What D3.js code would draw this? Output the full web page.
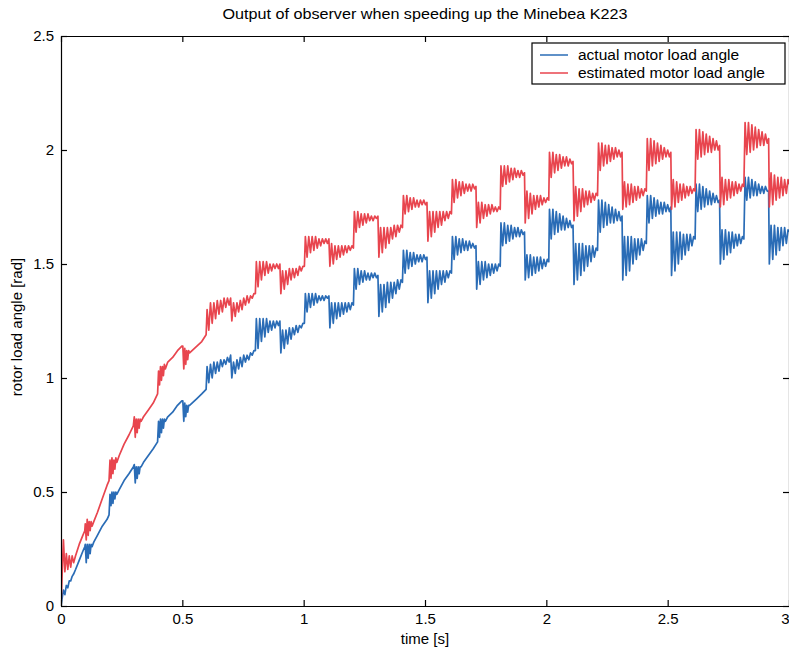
<!DOCTYPE html>
<html>
<head>
<meta charset="utf-8">
<script src="https://cdn.jsdelivr.net/npm/d3@7"></script>
<style>
  body { margin: 0; background: #fff; }
  text { font-family: "Liberation Sans", Arial, sans-serif; fill: #000; }
</style>
</head>
<body>
<script>
var width = 789, height = 649;

/** text + ticks **/
var title = "Output of observer when speeding up the Minebea K223";
var xLabel = "time [s]";
var yLabel = "rotor load angle [rad]";
var xTicks = [0, 0.5, 1, 1.5, 2, 2.5, 3];
var yTicks = [0, 0.5, 1, 1.5, 2, 2.5];
var seriesNames = ["actual motor load angle", "estimated motor load angle"];

/** shared sample times [s] (smooth start, then 0.1 s steps with ripple) **/
var time = [
  0,0.004,0.010,0.016,0.022,0.028,0.034,0.040,0.046,0.052,0.060,0.075,0.090,0.098,
  0.100,0.104,0.108,0.112,0.116,0.120,0.124,0.128,0.135,0.150,0.170,0.190,0.198,
  0.202,0.206,0.210,0.214,0.218,0.222,0.226,0.230,0.240,0.260,0.280,0.298,
  0.302,0.306,0.310,0.314,0.318,0.322,0.326,0.330,0.340,0.360,0.380,0.398,
  0.402,0.406,0.410,0.414,0.418,0.422,0.426,0.430,0.440,0.460,0.480,0.498,
  0.502,0.506,0.510,0.514,0.518,0.522,0.526,0.530,0.540,0.560,0.580,0.598,
  0.602,0.609,0.616,0.623,0.630,0.637,0.644,0.651,0.658,0.665,0.672,0.679,0.686,0.693,0.699,
  0.704,0.711,0.718,0.725,0.732,0.739,0.746,0.753,0.760,0.767,0.774,0.781,0.788,0.795,0.801,
  0.805,0.812,0.819,0.826,0.833,0.840,0.847,0.854,0.861,0.868,0.875,0.882,0.889,0.896,0.902,
  0.906,0.913,0.920,0.927,0.934,0.941,0.948,0.955,0.962,0.969,0.976,0.983,0.990,0.997,1.003,
  1.007,1.014,1.021,1.028,1.035,1.042,1.049,1.056,1.063,1.070,1.077,1.084,1.091,1.098,1.104,
  1.108,1.115,1.122,1.129,1.136,1.143,1.150,1.157,1.164,1.171,1.178,1.185,1.192,1.199,1.205,
  1.209,1.216,1.223,1.230,1.237,1.244,1.251,1.258,1.265,1.272,1.279,1.286,1.293,1.300,1.306,
  1.310,1.317,1.324,1.331,1.338,1.345,1.352,1.359,1.366,1.373,1.380,1.387,1.394,1.401,1.407,
  1.411,1.418,1.425,1.432,1.439,1.446,1.453,1.460,1.467,1.474,1.481,1.488,1.495,1.502,1.508,
  1.512,1.519,1.526,1.533,1.540,1.547,1.554,1.561,1.568,1.575,1.582,1.589,1.596,1.603,1.609,
  1.613,1.620,1.627,1.634,1.641,1.648,1.655,1.662,1.669,1.676,1.683,1.690,1.697,1.704,1.710,
  1.713,1.720,1.727,1.734,1.741,1.748,1.755,1.762,1.769,1.776,1.783,1.790,1.797,1.804,1.810,
  1.813,1.820,1.827,1.834,1.841,1.848,1.855,1.862,1.869,1.876,1.883,1.890,1.897,1.904,1.910,
  1.913,1.920,1.927,1.934,1.941,1.948,1.955,1.962,1.969,1.976,1.983,1.990,1.997,2.004,2.010,
  2.013,2.020,2.027,2.034,2.041,2.048,2.055,2.062,2.069,2.076,2.083,2.090,2.097,2.104,2.110,
  2.114,2.121,2.128,2.135,2.142,2.149,2.156,2.163,2.170,2.177,2.184,2.191,2.198,2.205,2.211,
  2.215,2.222,2.229,2.236,2.243,2.250,2.257,2.264,2.271,2.278,2.285,2.292,2.299,2.306,2.312,
  2.315,2.322,2.329,2.336,2.343,2.350,2.357,2.364,2.371,2.378,2.385,2.392,2.399,2.406,2.412,
  2.416,2.423,2.430,2.437,2.444,2.451,2.458,2.465,2.472,2.479,2.486,2.493,2.500,2.507,2.513,
  2.516,2.523,2.530,2.537,2.544,2.551,2.558,2.565,2.572,2.579,2.586,2.593,2.600,2.607,2.613,
  2.617,2.624,2.631,2.638,2.645,2.652,2.659,2.666,2.673,2.680,2.687,2.694,2.701,2.708,2.714,
  2.717,2.724,2.731,2.738,2.745,2.752,2.759,2.766,2.773,2.780,2.787,2.794,2.801,2.808,2.814,
  2.819,2.826,2.833,2.840,2.847,2.854,2.861,2.868,2.875,2.882,2.889,2.896,2.903,2.910,2.916,
  2.919,2.926,2.933,2.940,2.947,2.954,2.961,2.968,2.975,2.982,2.989,2.996,3.000
];

/** actual motor load angle [rad] **/
var actual = [
  0,0.03,0.07,0.05,0.09,0.08,0.11,0.11,0.13,0.14,0.16,0.20,0.24,0.26,
  0.27,0.19,0.27,0.21,0.27,0.23,0.27,0.26,0.28,0.31,0.35,0.38,0.40,
  0.49,0.44,0.50,0.45,0.50,0.47,0.50,0.49,0.51,0.55,0.58,0.61,
  0.62,0.54,0.61,0.56,0.61,0.58,0.61,0.61,0.63,0.66,0.69,0.72,
  0.81,0.74,0.82,0.76,0.82,0.78,0.82,0.81,0.83,0.85,0.88,0.90,
  0.90,0.81,0.89,0.83,0.88,0.85,0.88,0.88,0.89,0.91,0.93,0.95,
  1.05,0.98,1.06,1.00,1.07,1.02,1.07,1.03,1.08,1.05,1.08,1.06,1.09,1.07,1.10,
  1.00,1.07,1.02,1.08,1.04,1.09,1.05,1.10,1.07,1.10,1.08,1.11,1.10,1.12,1.12,
  1.26,1.13,1.26,1.16,1.26,1.18,1.26,1.20,1.25,1.21,1.25,1.22,1.25,1.23,1.25,
  1.11,1.21,1.13,1.21,1.15,1.22,1.17,1.22,1.19,1.23,1.20,1.23,1.22,1.24,1.24,
  1.37,1.29,1.37,1.31,1.37,1.32,1.37,1.33,1.36,1.34,1.36,1.34,1.36,1.35,1.36,
  1.22,1.33,1.24,1.33,1.26,1.33,1.27,1.33,1.28,1.33,1.29,1.33,1.30,1.33,1.32,
  1.48,1.39,1.48,1.41,1.47,1.42,1.47,1.43,1.46,1.43,1.46,1.44,1.46,1.44,1.45,
  1.27,1.41,1.29,1.41,1.31,1.42,1.33,1.42,1.35,1.42,1.37,1.43,1.39,1.43,1.42,
  1.56,1.46,1.56,1.48,1.55,1.49,1.55,1.50,1.54,1.51,1.54,1.51,1.54,1.52,1.53,
  1.33,1.47,1.35,1.47,1.37,1.47,1.39,1.47,1.41,1.47,1.42,1.47,1.44,1.47,1.46,
  1.62,1.52,1.62,1.54,1.61,1.55,1.61,1.56,1.60,1.56,1.60,1.57,1.59,1.57,1.58,
  1.39,1.51,1.41,1.51,1.43,1.51,1.44,1.50,1.45,1.50,1.46,1.50,1.47,1.50,1.49,
  1.68,1.58,1.68,1.59,1.67,1.60,1.67,1.61,1.66,1.62,1.66,1.62,1.65,1.63,1.64,
  1.43,1.54,1.44,1.54,1.45,1.53,1.46,1.53,1.47,1.53,1.48,1.52,1.49,1.52,1.51,
  1.74,1.61,1.74,1.63,1.73,1.64,1.72,1.65,1.71,1.65,1.70,1.66,1.69,1.66,1.67,
  1.41,1.59,1.43,1.59,1.45,1.59,1.47,1.58,1.49,1.58,1.51,1.58,1.53,1.57,1.56,
  1.78,1.64,1.78,1.66,1.77,1.67,1.76,1.68,1.75,1.68,1.74,1.69,1.73,1.69,1.71,
  1.43,1.62,1.45,1.62,1.47,1.62,1.50,1.61,1.52,1.61,1.54,1.61,1.56,1.60,1.59,
  1.80,1.68,1.80,1.70,1.79,1.71,1.78,1.72,1.77,1.72,1.77,1.73,1.76,1.73,1.75,
  1.45,1.64,1.47,1.64,1.50,1.64,1.52,1.63,1.54,1.63,1.56,1.63,1.58,1.62,1.61,
  1.85,1.73,1.85,1.74,1.84,1.75,1.83,1.76,1.82,1.76,1.81,1.77,1.80,1.77,1.78,
  1.50,1.65,1.52,1.65,1.54,1.64,1.55,1.64,1.57,1.63,1.58,1.63,1.59,1.62,1.61,
  1.88,1.78,1.88,1.79,1.87,1.80,1.86,1.80,1.85,1.81,1.84,1.81,1.84,1.82,1.82,
  1.50,1.67,1.52,1.67,1.54,1.66,1.56,1.66,1.58,1.66,1.59,1.65,1.64
];

/** estimated motor load angle [rad] **/
var estimated = [
  0,0.12,0.29,0.15,0.23,0.16,0.22,0.17,0.22,0.19,0.22,0.27,0.31,0.33,
  0.36,0.29,0.38,0.31,0.37,0.33,0.37,0.35,0.37,0.41,0.47,0.53,0.55,
  0.64,0.56,0.65,0.58,0.64,0.60,0.65,0.63,0.66,0.71,0.75,0.79,
  0.83,0.74,0.82,0.76,0.82,0.78,0.82,0.81,0.83,0.86,0.89,0.93,
  1.03,0.97,1.05,0.99,1.05,1.01,1.06,1.04,1.07,1.09,1.12,1.14,
  1.14,1.04,1.13,1.06,1.12,1.08,1.12,1.11,1.12,1.14,1.16,1.19,
  1.30,1.21,1.33,1.24,1.33,1.26,1.34,1.28,1.34,1.29,1.35,1.31,1.35,1.32,1.35,
  1.25,1.33,1.27,1.33,1.29,1.34,1.30,1.35,1.32,1.36,1.33,1.36,1.35,1.37,1.37,
  1.51,1.40,1.51,1.43,1.51,1.45,1.51,1.46,1.50,1.47,1.50,1.48,1.50,1.48,1.50,
  1.37,1.47,1.39,1.47,1.41,1.48,1.43,1.48,1.44,1.48,1.45,1.49,1.47,1.49,1.49,
  1.62,1.53,1.62,1.55,1.62,1.56,1.62,1.57,1.61,1.58,1.61,1.59,1.61,1.59,1.61,
  1.49,1.59,1.50,1.58,1.52,1.58,1.53,1.58,1.54,1.58,1.55,1.58,1.56,1.58,1.57,
  1.73,1.64,1.73,1.66,1.72,1.67,1.72,1.68,1.72,1.69,1.71,1.69,1.71,1.70,1.71,
  1.53,1.66,1.55,1.66,1.57,1.66,1.59,1.66,1.61,1.67,1.62,1.67,1.64,1.67,1.66,
  1.80,1.72,1.80,1.73,1.79,1.74,1.79,1.75,1.78,1.75,1.78,1.76,1.78,1.76,1.77,
  1.60,1.73,1.62,1.73,1.64,1.73,1.66,1.73,1.67,1.73,1.69,1.73,1.70,1.73,1.72,
  1.87,1.77,1.87,1.79,1.86,1.80,1.86,1.81,1.85,1.82,1.85,1.82,1.85,1.83,1.84,
  1.66,1.77,1.68,1.77,1.70,1.76,1.71,1.76,1.72,1.76,1.73,1.75,1.73,1.75,1.74,
  1.93,1.84,1.93,1.85,1.93,1.86,1.92,1.87,1.92,1.88,1.91,1.88,1.91,1.89,1.90,
  1.68,1.82,1.70,1.81,1.72,1.80,1.74,1.80,1.75,1.80,1.76,1.79,1.77,1.79,1.78,
  1.99,1.88,1.99,1.90,1.98,1.91,1.98,1.92,1.97,1.93,1.97,1.93,1.96,1.94,1.95,
  1.69,1.84,1.71,1.83,1.73,1.83,1.75,1.82,1.76,1.82,1.77,1.81,1.78,1.81,1.80,
  2.03,1.91,2.03,1.93,2.02,1.94,2.02,1.95,2.01,1.96,2.01,1.97,2.00,1.97,1.99,
  1.74,1.86,1.75,1.85,1.76,1.85,1.77,1.84,1.78,1.84,1.79,1.83,1.80,1.83,1.82,
  2.05,1.91,2.05,1.93,2.04,1.94,2.03,1.95,2.02,1.96,2.01,1.97,2.00,1.97,1.99,
  1.74,1.87,1.75,1.86,1.77,1.85,1.78,1.85,1.79,1.84,1.80,1.84,1.81,1.83,1.82,
  2.09,1.96,2.09,1.97,2.08,1.98,2.07,1.99,2.06,1.99,2.05,2.00,2.04,2.00,2.02,
  1.75,1.88,1.76,1.87,1.78,1.87,1.79,1.86,1.80,1.86,1.81,1.85,1.82,1.85,1.84,
  2.12,1.98,2.12,1.99,2.11,2.00,2.10,2.01,2.09,2.02,2.08,2.02,2.07,2.03,2.05,
  1.75,1.90,1.76,1.89,1.78,1.88,1.79,1.88,1.80,1.87,1.81,1.87,1.85
];

var colors = ["#2a6cb6", "#e8454e"];

if (actual.length !== time.length || estimated.length !== time.length)
    console.error("length mismatch", time.length, actual.length, estimated.length);

var svg = d3.select("body").append("svg")
    .attr("width", width).attr("height", height);

var x = d3.scaleLinear().domain([0, 3]).range([61, 789]);
var y = d3.scaleLinear().domain([0, 2.5]).range([606, 36]);

svg.append("clipPath").attr("id", "plot")
  .append("rect")
    .attr("x", x(0)).attr("y", y(2.5))
    .attr("width", x(3) - x(0)).attr("height", y(0) - y(2.5));

/** traces **/
var line = d3.line()
    .x((d, i) => x(time[i]))
    .y(d => y(d));

[actual, estimated].forEach((s, k) => {
    svg.append("path")
        .attr("clip-path", "url(#plot)")
        .attr("d", line(s))
        .attr("fill", "none")
        .attr("stroke", colors[k])
        .attr("stroke-width", 1.7)
        .attr("stroke-linejoin", "round");
});

/** axes, ticks inside like matlab **/
var fmt = d => String(d);

var xAxis = svg.append("g").attr("transform", "translate(0," + y(0) + ")")
    .call(d3.axisBottom(x).tickValues(xTicks).tickFormat(fmt).tickSizeInner(-6).tickSizeOuter(0).tickPadding(7));
svg.append("g").attr("transform", "translate(0," + y(2.5) + ")")
    .call(d3.axisTop(x).tickValues(xTicks).tickFormat("").tickSizeInner(-6).tickSizeOuter(0));
svg.append("g").attr("transform", "translate(" + x(0) + ",0)")
    .call(d3.axisLeft(y).tickValues(yTicks).tickFormat(fmt).tickSizeInner(-6).tickSizeOuter(0).tickPadding(7));
svg.append("g").attr("transform", "translate(" + x(3) + ",0)")
    .call(d3.axisRight(y).tickValues(yTicks).tickFormat("").tickSizeInner(-6).tickSizeOuter(0));

svg.selectAll(".tick text").attr("font-size", 15).attr("font-family", null);
svg.selectAll(".domain, .tick line").attr("stroke", "#000").attr("stroke-width", 1.2);
// last x label sits on the window edge: keep it inside
xAxis.selectAll(".tick text").filter(d => d === 3).attr("text-anchor", "end");

/** labels **/
svg.append("text")
    .attr("x", (x(0) + x(3)) / 2).attr("y", 19)
    .attr("text-anchor", "middle").attr("font-size", 15)
    .attr("textLength", 405).attr("lengthAdjust", "spacingAndGlyphs")
    .text(title);

svg.append("text")
    .attr("x", (x(0) + x(3)) / 2).attr("y", 644)
    .attr("text-anchor", "middle").attr("font-size", 15)
    .text(xLabel);

svg.append("text")
    .attr("transform", "translate(22," + (y(1.25) + 6) + ") rotate(-90)")
    .attr("text-anchor", "middle").attr("font-size", 15)
    .text(yLabel);

/** legend **/
var legend = svg.append("g");
legend.append("rect")
    .attr("x", 532).attr("y", 43).attr("width", 253).attr("height", 41)
    .attr("fill", "#fff").attr("stroke", "#000").attr("stroke-width", 1.2);

seriesNames.forEach((name, k) => {
    var ly = 55 + k * 18;
    legend.append("line")
        .attr("x1", 540).attr("x2", 568).attr("y1", ly).attr("y2", ly)
        .attr("stroke", colors[k]).attr("stroke-width", 1.5);
    legend.append("text")
        .attr("x", 578).attr("y", ly + 5)
        .attr("font-size", 15.5)
        .text(name);
});
</script>
</body>
</html>
